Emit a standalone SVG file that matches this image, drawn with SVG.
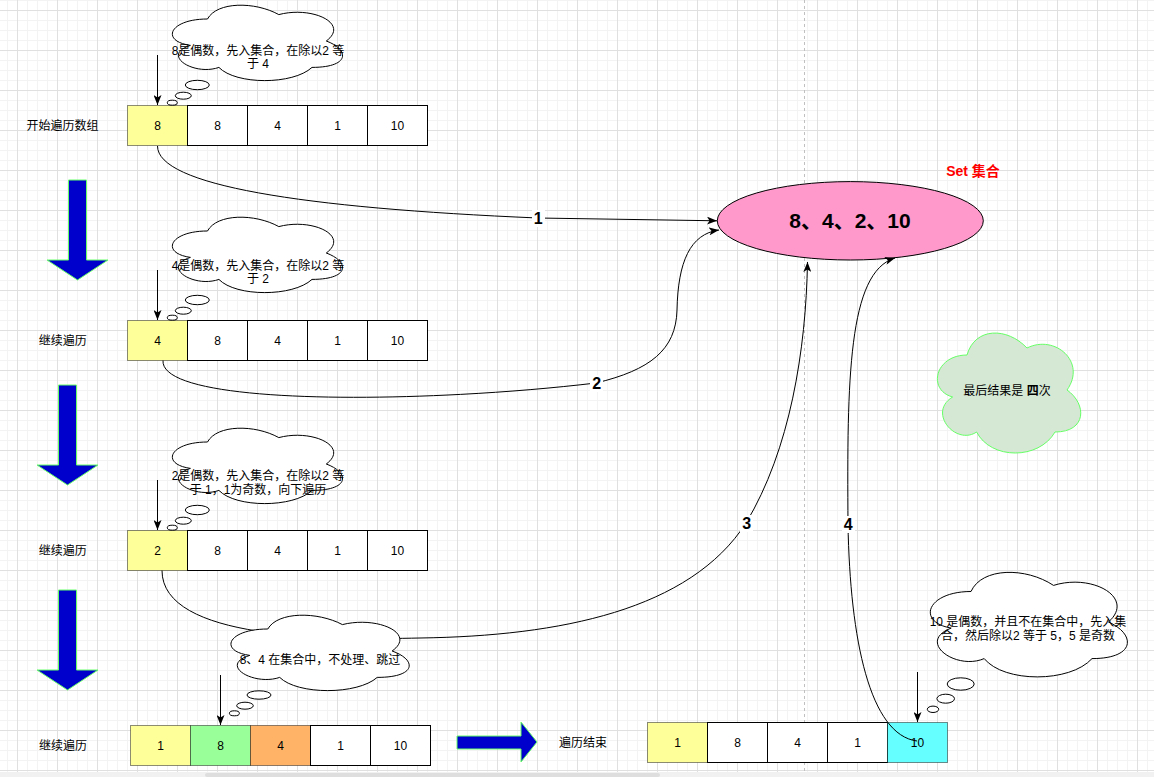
<svg xmlns="http://www.w3.org/2000/svg" width="1154" height="777" viewBox="0 0 1154 777">
<defs>
<pattern id="grid" x="17" y="10" width="40" height="40" patternUnits="userSpaceOnUse">
<rect width="40" height="40" fill="#ffffff"/>
<path d="M10.5,0 V40 M20.5,0 V40 M30.5,0 V40 M0,10.5 H40 M0,20.5 H40 M0,30.5 H40" stroke="#f3f3f3" stroke-width="1" fill="none"/>
<path d="M0.5,0 V40 M0,0.5 H40" stroke="#e0e0e0" stroke-width="1" fill="none"/>
</pattern>
<marker id="ah" viewBox="0 0 10 8" refX="10" refY="4" markerWidth="10" markerHeight="8" orient="auto" markerUnits="userSpaceOnUse">
<path d="M0,0 L10,4 L0,8 L2.5,4 Z" fill="#000"/>
</marker>
<style>
text{font-family:'Liberation Sans','Noto Sans CJK SC',sans-serif;fill:#000;}
.t12{font-size:12px;text-anchor:middle;}
.cell{fill:#ffffff;stroke:#000;stroke-width:1;}
.ccol{stroke:#000;stroke-opacity:0.45;stroke-width:1;}
.cloud{fill:#ffffff;stroke:#000;stroke-width:1;}
.bub{fill:#ffffff;stroke:#000;stroke-width:1;}
.big{fill:#0000cc;stroke:#66ff66;stroke-width:1;}
.edge{fill:none;stroke:#000;stroke-width:1;}
.elab{font-size:16px;font-weight:bold;text-anchor:middle;}
</style>
</defs>

<g id="background">
<rect width="1154" height="777" fill="url(#grid)"/>
<line x1="804.5" y1="0" x2="804.5" y2="772" stroke="#c0c0c0" stroke-dasharray="3,3"/>
<rect x="0" y="772" width="1154" height="5" fill="#f1f1f1"/>
<rect x="205" y="773" width="455" height="4" rx="2" fill="#dedede"/>
</g>

<g id="label-start"><text class="t12" x="62.5" y="130.3">开始遍历数组</text></g>
<g id="label-row2"><text class="t12" x="62.7" y="345">继续遍历</text></g>
<g id="label-row3"><text class="t12" x="62.7" y="555">继续遍历</text></g>
<g id="label-row4"><text class="t12" x="63" y="750">继续遍历</text></g>
<g id="label-end"><text class="t12" x="583" y="747">遍历结束</text></g>

<g id="row1">
<rect x="127.5" y="105.5" width="60" height="40" fill="#ffff99" class="ccol"/>
<rect class="cell" x="187.5" y="105.5" width="60" height="40"/>
<rect class="cell" x="247.5" y="105.5" width="60" height="40"/>
<rect class="cell" x="307.5" y="105.5" width="60" height="40"/>
<rect class="cell" x="367.5" y="105.5" width="60" height="40"/>
<text class="t12" x="157.5" y="130">8</text>
<text class="t12" x="217.5" y="130">8</text>
<text class="t12" x="277.5" y="130">4</text>
<text class="t12" x="337.5" y="130">1</text>
<text class="t12" x="397.5" y="130">10</text>
</g>

<g id="row2">
<rect x="127.5" y="320.5" width="60" height="40" fill="#ffff99" class="ccol"/>
<rect class="cell" x="187.5" y="320.5" width="60" height="40"/>
<rect class="cell" x="247.5" y="320.5" width="60" height="40"/>
<rect class="cell" x="307.5" y="320.5" width="60" height="40"/>
<rect class="cell" x="367.5" y="320.5" width="60" height="40"/>
<text class="t12" x="157.5" y="345">4</text>
<text class="t12" x="217.5" y="345">8</text>
<text class="t12" x="277.5" y="345">4</text>
<text class="t12" x="337.5" y="345">1</text>
<text class="t12" x="397.5" y="345">10</text>
</g>

<g id="row3">
<rect x="127.5" y="530.5" width="60" height="40" fill="#ffff99" class="ccol"/>
<rect class="cell" x="187.5" y="530.5" width="60" height="40"/>
<rect class="cell" x="247.5" y="530.5" width="60" height="40"/>
<rect class="cell" x="307.5" y="530.5" width="60" height="40"/>
<rect class="cell" x="367.5" y="530.5" width="60" height="40"/>
<text class="t12" x="157.5" y="555">2</text>
<text class="t12" x="217.5" y="555">8</text>
<text class="t12" x="277.5" y="555">4</text>
<text class="t12" x="337.5" y="555">1</text>
<text class="t12" x="397.5" y="555">10</text>
</g>

<g id="row4">
<rect x="130.5" y="725.5" width="60" height="40" fill="#ffff99" class="ccol"/>
<rect x="190.5" y="725.5" width="60" height="40" fill="#99ff99" class="ccol"/>
<rect x="250.5" y="725.5" width="60" height="40" fill="#ffb366" class="ccol"/>
<rect class="cell" x="310.5" y="725.5" width="60" height="40"/>
<rect class="cell" x="370.5" y="725.5" width="60" height="40"/>
<text class="t12" x="160.5" y="750">1</text>
<text class="t12" x="220.5" y="750">8</text>
<text class="t12" x="280.5" y="750">4</text>
<text class="t12" x="340.5" y="750">1</text>
<text class="t12" x="400.5" y="750">10</text>
</g>

<g id="row-final">
<rect x="647.5" y="722.5" width="60" height="40" fill="#ffff99" class="ccol"/>
<rect class="cell" x="707.5" y="722.5" width="60" height="40"/>
<rect class="cell" x="767.5" y="722.5" width="60" height="40"/>
<rect class="cell" x="827.5" y="722.5" width="60" height="40"/>
<rect x="887.5" y="722.5" width="60" height="40" fill="#66ffff" class="ccol"/>
<text class="t12" x="677.5" y="747">1</text>
<text class="t12" x="737.5" y="747">8</text>
<text class="t12" x="797.5" y="747">4</text>
<text class="t12" x="857.5" y="747">1</text>
<text class="t12" x="917.5" y="747">10</text>
</g>

<g id="arrow-down-1"><polygon class="big" points="68.5,180 86.5,180 86.5,260 108,260 77.5,280 47,260 68.5,260"/></g>
<g id="arrow-down-2"><polygon class="big" points="58.5,385 76.5,385 76.5,465 98,465 67.5,485 37,465 58.5,465"/></g>
<g id="arrow-down-3"><polygon class="big" points="58.5,590 76.5,590 76.5,670 98,670 67.5,690 37,670 58.5,670"/></g>
<g id="arrow-right"><polygon class="big" points="457,736 521,736 521,722 537,742 521,762 521,749 457,749"/></g>

<g id="set-ellipse">
<ellipse cx="850.3" cy="220.8" rx="133" ry="39.2" fill="#ff99cc" stroke="#000" stroke-width="1"/>
<text x="850" y="228" style="font-size:21px;font-weight:bold;text-anchor:middle;">8、4、2、10</text>
</g>
<g id="set-title"><text x="973" y="175.7" style="font-size:14px;font-weight:bold;text-anchor:middle;fill:#ff0000;">Set 集合</text></g>

<g id="connectors">
<path class="edge" d="M157.5,146 C157.5,185 300,208 538,218 L717,220.8" marker-end="url(#ah)"/>
<path class="edge" d="M163,360.5 C160,406 420,404 596,383 C650,370 676,350 677,310 C678,262 690,234 719,230" marker-end="url(#ah)"/>
<path class="edge" d="M162,570.5 C162,640 330,640 420,638 C560,636 690,610 746,523 C790,450 806,350 807.5,262" marker-end="url(#ah)"/>
<path class="edge" d="M917,741 C870,735 850,640 848,524 C847,380 848,272 895,258" marker-end="url(#ah)"/>
<line class="edge" x1="157.5" y1="55" x2="157.5" y2="105" marker-end="url(#ah)"/>
<line class="edge" x1="157.5" y1="270" x2="157.5" y2="320" marker-end="url(#ah)"/>
<line class="edge" x1="157.5" y1="480" x2="157.5" y2="530" marker-end="url(#ah)"/>
<line class="edge" x1="220.5" y1="675" x2="220.5" y2="725" marker-end="url(#ah)"/>
<line class="edge" x1="917.5" y1="672" x2="917.5" y2="722" marker-end="url(#ah)"/>
<rect x="532" y="210" width="13" height="17" fill="#ffffff"/>
<text class="elab" x="538.3" y="224">1</text>
<rect x="590" y="375" width="13" height="17" fill="#ffffff"/>
<text class="elab" x="596.7" y="389">2</text>
<rect x="740" y="515" width="13" height="17" fill="#ffffff"/>
<text class="elab" x="746.7" y="529">3</text>
<rect x="842" y="516" width="13" height="17" fill="#ffffff"/>
<text class="elab" x="848.3" y="530">4</text>
</g>

<g id="cloud1">
<path class="cloud" d="M207.5,19 C169.5,19 160,41 190.4,45.4 C160,55.1 194.2,76.2 218.9,67.4 C236,85 293,85 312,67.4 C350,67.4 350,49.8 326.3,41 C350,23.4 312,5.8 278.8,14.6 C255,1.4 217,1.4 207.5,19 Z"/>
<ellipse class="bub" cx="197.3" cy="85" rx="12" ry="4.7"/>
<ellipse class="bub" cx="183.3" cy="95.7" rx="8" ry="3.5"/>
<ellipse class="bub" cx="172.3" cy="102.7" rx="5" ry="2.5"/>
<text class="t12" x="258" y="54.5">8是偶数，先入集合，在除以2 等</text>
<text class="t12" x="258" y="68">于 4</text>
</g>

<g id="cloud2">
<path class="cloud" d="M207.5,231 C169.5,231 160,253 190.4,257.4 C160,267.1 194.2,288.2 218.9,279.4 C236,297 293,297 312,279.4 C350,279.4 350,261.8 326.3,253 C350,235.4 312,217.8 278.8,226.6 C255,213.4 217,213.4 207.5,231 Z"/>
<ellipse class="bub" cx="197.3" cy="300" rx="12" ry="4.7"/>
<ellipse class="bub" cx="183.3" cy="310.7" rx="8" ry="3.5"/>
<ellipse class="bub" cx="172.3" cy="317.7" rx="5" ry="2.5"/>
<text class="t12" x="258" y="269.5">4是偶数，先入集合，在除以2 等</text>
<text class="t12" x="258" y="283">于 2</text>
</g>

<g id="cloud3">
<path class="cloud" d="M207.5,442 C169.5,442 160,464 190.4,468.4 C160,478.1 194.2,499.2 218.9,490.4 C236,508 293,508 312,490.4 C350,490.4 350,472.8 326.3,464 C350,446.4 312,428.8 278.8,437.6 C255,424.4 217,424.4 207.5,442 Z"/>
<ellipse class="bub" cx="197.3" cy="510" rx="12" ry="4.7"/>
<ellipse class="bub" cx="183.3" cy="520.7" rx="8" ry="3.5"/>
<ellipse class="bub" cx="172.3" cy="527.7" rx="5" ry="2.5"/>
<text class="t12" x="258" y="479.5">2是偶数，先入集合，在除以2 等</text>
<text class="t12" x="258" y="493.5">于 1，1为奇数，向下遍历</text>
</g>

<g id="cloud4">
<path class="cloud" d="M267.8,629 C228,629 218,651 249.8,655.4 C218,665.1 253.8,686.2 279.7,677.4 C297.6,695 357.3,695 377.2,677.4 C417,677.4 417,659.8 392.1,651 C417,633.4 377.2,615.8 342.4,624.6 C317.5,611.4 277.7,611.4 267.8,629 Z"/>
<ellipse class="bub" cx="259" cy="695" rx="12" ry="4.2"/>
<ellipse class="bub" cx="245" cy="705.7" rx="8.3" ry="3.5"/>
<ellipse class="bub" cx="234.4" cy="713.3" rx="5" ry="2.5"/>
<text class="t12" x="320" y="663.5">8、4 在集合中，不处理、跳过</text>
</g>

<g id="cloud5">
<path class="cloud" d="M971,591.5 C927,591.5 916,622 951.2,628.1 C916,641.5 955.6,670.8 984.2,658.6 C1004,683 1070,683 1092,658.6 C1136,658.6 1136,634.2 1108.5,622 C1136,597.6 1092,573.2 1053.5,585.4 C1026,567.1 982,567.1 971,591.5 Z"/>
<ellipse class="bub" cx="960.7" cy="684" rx="13.5" ry="6.2"/>
<ellipse class="bub" cx="945.7" cy="698.7" rx="8.8" ry="4.5"/>
<ellipse class="bub" cx="933" cy="709.3" rx="5.7" ry="3.2"/>
<text class="t12" x="1028" y="626">10 是偶数，并且不在集合中，先入集</text>
<text class="t12" x="1028" y="640.3">合，然后除以2 等于 5，5 是奇数</text>
</g>

<g id="result-cloud">
<path d="M967,355 C935,355 927,390 952.6,397 C927,412.4 955.8,446 976.6,432 C991,460 1039,460 1055,432 C1087,432 1087,404 1067,390 C1087,362 1055,334 1027,348 C1007,327 975,327 967,355 Z" fill="#d5e8d4" stroke="#66ff66" stroke-width="1"/>
<text class="t12" x="1007" y="395.3">最后结果是 <tspan style="font-weight:bold;">四</tspan>次</text>
</g>
</svg>
